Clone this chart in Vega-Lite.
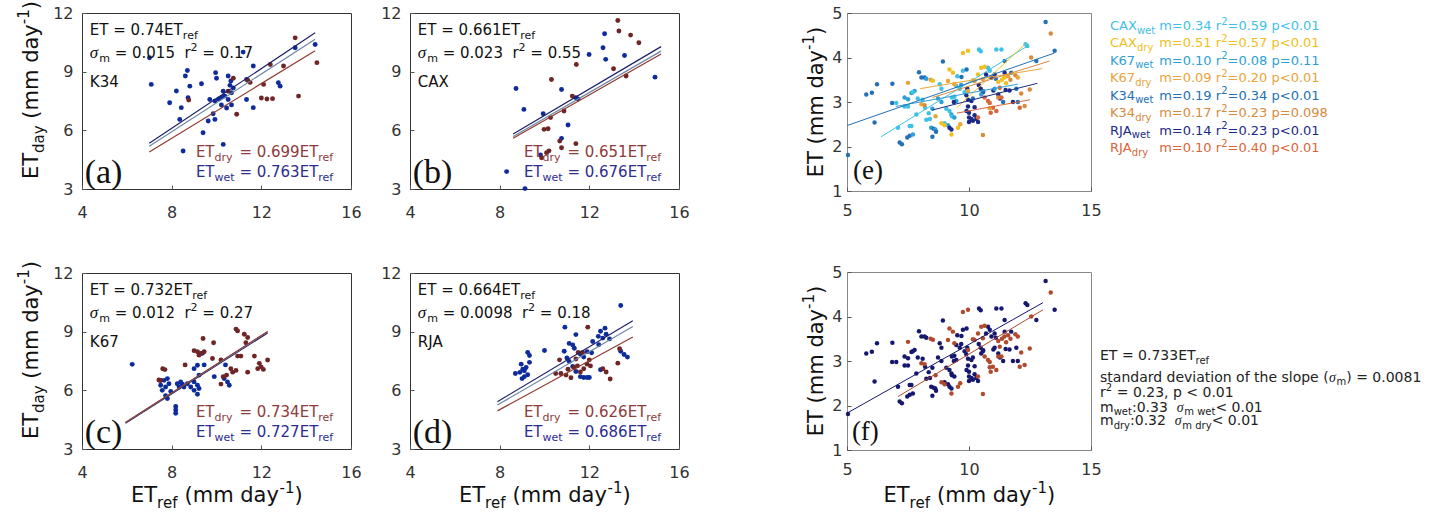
{
"$schema":"https://vega.github.io/schema/vega-lite/v6.json",
"background":"white",
"padding":{"left":16,"top":0,"right":5,"bottom":5},
"config":{"font":"DejaVu Sans","view":{"stroke":"#333","strokeWidth":1},"axis":{"grid":false,"domain":false,"labelFont":"DejaVu Sans","labelFontSize":16,"labelColor":"#333","tickColor":"#555","tickSize":-4,"labelFlush":false,"labelOverlap":false},"header":{"labels":false,"title":null,"labelExpr":"''","labelFontSize":0,"labelPadding":0,"titlePadding":0},"headerFacet":{"labels":false,"title":null,"labelExpr":"''","labelFontSize":0,"labelPadding":0}},
"datasets":{
"abcd":[
{"k":"a","site":"K34","t1":"ET = 0.74ET","t2":"=\u00a00.015\u00a0\u00a0r","t3":"=\u00a00.17","nm":"K34","lab":"(a)","td":"=\u00a00.699ET","tw":"=\u00a00.763ET"},
{"k":"a","site":"CAX","t1":"ET = 0.661ET","t2":"=\u00a00.023\u00a0\u00a0r","t3":"=\u00a00.55","nm":"CAX","lab":"(b)","td":"=\u00a00.651ET","tw":"=\u00a00.676ET"},
{"k":"a","site":"K67","t1":"ET = 0.732ET","t2":"=\u00a00.012\u00a0\u00a0r","t3":"=\u00a00.27","nm":"K67","lab":"(c)","td":"=\u00a00.734ET","tw":"=\u00a00.727ET"},
{"k":"a","site":"RJA","t1":"ET = 0.664ET","t2":"=\u00a00.0098\u00a0\u00a0r","t3":"=\u00a00.18","nm":"RJA","lab":"(d)","td":"=\u00a00.626ET","tw":"=\u00a00.686ET"},
{"k":"l","site":"K34","s":"wet","x":7.0,"y":5.34},{"k":"l","site":"K34","s":"wet","x":14.4,"y":10.99},
{"k":"l","site":"K34","s":"all","x":7.0,"y":5.18},{"k":"l","site":"K34","s":"all","x":14.4,"y":10.66},
{"k":"l","site":"K34","s":"dry","x":7.0,"y":4.89},{"k":"l","site":"K34","s":"dry","x":14.4,"y":10.07},
{"k":"l","site":"CAX","s":"wet","x":8.6,"y":5.81},{"k":"l","site":"CAX","s":"wet","x":15.2,"y":10.28},
{"k":"l","site":"CAX","s":"all","x":8.6,"y":5.68},{"k":"l","site":"CAX","s":"all","x":15.2,"y":10.05},
{"k":"l","site":"CAX","s":"dry","x":8.6,"y":5.6},{"k":"l","site":"CAX","s":"dry","x":15.2,"y":9.9},
{"k":"l","site":"K67","s":"wet","x":5.94,"y":4.32},{"k":"l","site":"K67","s":"wet","x":12.28,"y":8.93},
{"k":"l","site":"K67","s":"all","x":5.94,"y":4.35},{"k":"l","site":"K67","s":"all","x":12.28,"y":8.99},
{"k":"l","site":"K67","s":"dry","x":5.94,"y":4.36},{"k":"l","site":"K67","s":"dry","x":12.28,"y":9.01},
{"k":"l","site":"RJA","s":"wet","x":7.9,"y":5.42},{"k":"l","site":"RJA","s":"wet","x":13.94,"y":9.56},
{"k":"l","site":"RJA","s":"all","x":7.9,"y":5.25},{"k":"l","site":"RJA","s":"all","x":13.94,"y":9.26},
{"k":"l","site":"RJA","s":"dry","x":7.9,"y":4.95},{"k":"l","site":"RJA","s":"dry","x":13.94,"y":8.73},
{"k":"p","site":"K34","s":"wet","x":7.01,"y":9.71},{"k":"p","site":"K34","s":"wet","x":7.09,"y":8.35},{"k":"p","site":"K34","s":"wet","x":8.21,"y":8.01},{"k":"p","site":"K34","s":"wet","x":8.61,"y":8.78},{"k":"p","site":"K34","s":"wet","x":8.7,"y":9.06},{"k":"p","site":"K34","s":"wet","x":8.81,"y":8.26},{"k":"p","site":"K34","s":"wet","x":8.73,"y":7.67},{"k":"p","site":"K34","s":"wet","x":7.91,"y":7.41},{"k":"p","site":"K34","s":"wet","x":8.43,"y":7.16},{"k":"p","site":"K34","s":"wet","x":8.36,"y":6.56},{"k":"p","site":"K34","s":"wet","x":9.33,"y":8.38},{"k":"p","site":"K34","s":"wet","x":9.96,"y":8.95},{"k":"p","site":"K34","s":"wet","x":10.0,"y":8.66},{"k":"p","site":"K34","s":"wet","x":10.52,"y":8.78},{"k":"p","site":"K34","s":"wet","x":10.64,"y":8.52},{"k":"p","site":"K34","s":"wet","x":9.7,"y":7.58},{"k":"p","site":"K34","s":"wet","x":9.93,"y":7.5},{"k":"p","site":"K34","s":"wet","x":10.3,"y":8.0},{"k":"p","site":"K34","s":"wet","x":10.37,"y":7.75},{"k":"p","site":"K34","s":"wet","x":10.52,"y":7.58},{"k":"p","site":"K34","s":"wet","x":10.67,"y":7.92},{"k":"p","site":"K34","s":"wet","x":10.75,"y":8.17},{"k":"p","site":"K34","s":"wet","x":10.6,"y":8.3},{"k":"p","site":"K34","s":"wet","x":10.22,"y":7.3},{"k":"p","site":"K34","s":"wet","x":10.45,"y":7.14},{"k":"p","site":"K34","s":"wet","x":10.67,"y":7.3},{"k":"p","site":"K34","s":"wet","x":9.93,"y":6.56},{"k":"p","site":"K34","s":"wet","x":9.63,"y":6.48},{"k":"p","site":"K34","s":"wet","x":9.85,"y":6.85},{"k":"p","site":"K34","s":"wet","x":9.4,"y":5.88},{"k":"p","site":"K34","s":"wet","x":8.51,"y":4.94},{"k":"p","site":"K34","s":"wet","x":10.3,"y":5.28},{"k":"p","site":"K34","s":"wet","x":11.19,"y":10.0},{"k":"p","site":"K34","s":"wet","x":11.64,"y":9.29},{"k":"p","site":"K34","s":"wet","x":11.34,"y":8.6},{"k":"p","site":"K34","s":"wet","x":11.34,"y":7.58},{"k":"p","site":"K34","s":"wet","x":11.64,"y":7.16},{"k":"p","site":"K34","s":"wet","x":12.76,"y":8.43},{"k":"p","site":"K34","s":"wet","x":12.84,"y":8.26},{"k":"p","site":"K34","s":"wet","x":13.51,"y":10.22},{"k":"p","site":"K34","s":"wet","x":14.4,"y":10.39},{"k":"p","site":"K34","s":"wet","x":10.1,"y":7.6},{"k":"p","site":"K34","s":"wet","x":10.25,"y":7.7},
{"k":"p","site":"K34","s":"dry","x":10.75,"y":8.66},{"k":"p","site":"K34","s":"dry","x":11.4,"y":8.55},{"k":"p","site":"K34","s":"dry","x":11.5,"y":8.45},{"k":"p","site":"K34","s":"dry","x":12.1,"y":8.35},{"k":"p","site":"K34","s":"dry","x":12.0,"y":7.65},{"k":"p","site":"K34","s":"dry","x":12.25,"y":7.6},{"k":"p","site":"K34","s":"dry","x":12.5,"y":7.62},{"k":"p","site":"K34","s":"dry","x":13.66,"y":7.75},{"k":"p","site":"K34","s":"dry","x":12.99,"y":9.29},{"k":"p","site":"K34","s":"dry","x":12.4,"y":9.37},{"k":"p","site":"K34","s":"dry","x":13.51,"y":10.73},{"k":"p","site":"K34","s":"dry","x":14.48,"y":9.46},{"k":"p","site":"K34","s":"dry","x":10.9,"y":6.82},{"k":"p","site":"K34","s":"dry","x":8.76,"y":7.55},{"k":"p","site":"K34","s":"dry","x":10.52,"y":8.0},
{"k":"p","site":"CAX","s":"wet","x":8.31,"y":3.89},{"k":"p","site":"CAX","s":"wet","x":9.13,"y":3.02},{"k":"p","site":"CAX","s":"wet","x":8.73,"y":8.14},{"k":"p","site":"CAX","s":"wet","x":9.08,"y":7.07},{"k":"p","site":"CAX","s":"wet","x":9.94,"y":6.85},{"k":"p","site":"CAX","s":"wet","x":9.82,"y":4.74},{"k":"p","site":"CAX","s":"wet","x":10.76,"y":8.09},{"k":"p","site":"CAX","s":"wet","x":10.76,"y":5.59},{"k":"p","site":"CAX","s":"wet","x":11.05,"y":6.27},{"k":"p","site":"CAX","s":"wet","x":11.99,"y":9.88},{"k":"p","site":"CAX","s":"wet","x":12.68,"y":10.94},{"k":"p","site":"CAX","s":"wet","x":12.61,"y":10.22},{"k":"p","site":"CAX","s":"wet","x":12.73,"y":9.63},{"k":"p","site":"CAX","s":"wet","x":13.57,"y":9.83},{"k":"p","site":"CAX","s":"wet","x":11.4,"y":7.67},{"k":"p","site":"CAX","s":"wet","x":14.93,"y":8.72},{"k":"p","site":"CAX","s":"wet","x":11.5,"y":7.6},
{"k":"p","site":"CAX","s":"dry","x":13.27,"y":11.62},{"k":"p","site":"CAX","s":"dry","x":13.32,"y":11.08},{"k":"p","site":"CAX","s":"dry","x":13.84,"y":10.87},{"k":"p","site":"CAX","s":"dry","x":14.21,"y":10.48},{"k":"p","site":"CAX","s":"dry","x":11.42,"y":9.37},{"k":"p","site":"CAX","s":"dry","x":13.08,"y":9.15},{"k":"p","site":"CAX","s":"dry","x":13.64,"y":8.78},{"k":"p","site":"CAX","s":"dry","x":10.31,"y":8.6},{"k":"p","site":"CAX","s":"dry","x":11.24,"y":7.75},{"k":"p","site":"CAX","s":"dry","x":10.87,"y":6.99},{"k":"p","site":"CAX","s":"dry","x":10.27,"y":6.65},{"k":"p","site":"CAX","s":"dry","x":9.98,"y":6.05},{"k":"p","site":"CAX","s":"dry","x":10.16,"y":6.08},{"k":"p","site":"CAX","s":"dry","x":10.68,"y":5.45},{"k":"p","site":"CAX","s":"dry","x":10.76,"y":5.11},{"k":"p","site":"CAX","s":"dry","x":10.09,"y":4.86},{"k":"p","site":"CAX","s":"dry","x":9.87,"y":4.6},{"k":"p","site":"CAX","s":"dry","x":11.4,"y":5.32},{"k":"p","site":"CAX","s":"dry","x":10.2,"y":4.95},
{"k":"p","site":"K67","s":"wet","x":6.24,"y":7.33},{"k":"p","site":"K67","s":"wet","x":7.51,"y":6.51},{"k":"p","site":"K67","s":"wet","x":7.66,"y":6.51},{"k":"p","site":"K67","s":"wet","x":7.81,"y":6.6},{"k":"p","site":"K67","s":"wet","x":7.88,"y":6.34},{"k":"p","site":"K67","s":"wet","x":7.51,"y":6.26},{"k":"p","site":"K67","s":"wet","x":7.73,"y":6.17},{"k":"p","site":"K67","s":"wet","x":7.58,"y":6.0},{"k":"p","site":"K67","s":"wet","x":7.73,"y":5.72},{"k":"p","site":"K67","s":"wet","x":7.81,"y":5.58},{"k":"p","site":"K67","s":"wet","x":7.96,"y":5.94},{"k":"p","site":"K67","s":"wet","x":8.18,"y":5.0},{"k":"p","site":"K67","s":"wet","x":8.18,"y":5.17},{"k":"p","site":"K67","s":"wet","x":8.18,"y":4.83},{"k":"p","site":"K67","s":"wet","x":8.25,"y":6.34},{"k":"p","site":"K67","s":"wet","x":8.4,"y":6.43},{"k":"p","site":"K67","s":"wet","x":8.55,"y":6.17},{"k":"p","site":"K67","s":"wet","x":8.33,"y":6.17},{"k":"p","site":"K67","s":"wet","x":8.48,"y":6.31},{"k":"p","site":"K67","s":"wet","x":8.7,"y":6.34},{"k":"p","site":"K67","s":"wet","x":8.85,"y":6.17},{"k":"p","site":"K67","s":"wet","x":9.0,"y":6.43},{"k":"p","site":"K67","s":"wet","x":9.15,"y":6.26},{"k":"p","site":"K67","s":"wet","x":9.22,"y":6.09},{"k":"p","site":"K67","s":"wet","x":9.0,"y":6.0},{"k":"p","site":"K67","s":"wet","x":9.15,"y":5.8},{"k":"p","site":"K67","s":"wet","x":9.0,"y":7.11},{"k":"p","site":"K67","s":"wet","x":9.15,"y":7.28},{"k":"p","site":"K67","s":"wet","x":9.37,"y":7.9},{"k":"p","site":"K67","s":"wet","x":9.22,"y":6.78},{"k":"p","site":"K67","s":"wet","x":9.45,"y":7.3},{"k":"p","site":"K67","s":"wet","x":9.9,"y":6.7},{"k":"p","site":"K67","s":"wet","x":10.4,"y":7.3},{"k":"p","site":"K67","s":"wet","x":10.34,"y":6.6},{"k":"p","site":"K67","s":"wet","x":10.49,"y":6.43},{"k":"p","site":"K67","s":"wet","x":10.57,"y":6.26},
{"k":"p","site":"K67","s":"dry","x":7.6,"y":7.1},{"k":"p","site":"K67","s":"dry","x":7.7,"y":7.06},{"k":"p","site":"K67","s":"dry","x":7.5,"y":6.5},{"k":"p","site":"K67","s":"dry","x":7.43,"y":6.53},{"k":"p","site":"K67","s":"dry","x":8.6,"y":7.3},{"k":"p","site":"K67","s":"dry","x":9.0,"y":8.03},{"k":"p","site":"K67","s":"dry","x":9.15,"y":7.97},{"k":"p","site":"K67","s":"dry","x":9.3,"y":7.88},{"k":"p","site":"K67","s":"dry","x":9.45,"y":7.97},{"k":"p","site":"K67","s":"dry","x":9.22,"y":7.8},{"k":"p","site":"K67","s":"dry","x":9.4,"y":8.65},{"k":"p","site":"K67","s":"dry","x":9.87,"y":8.43},{"k":"p","site":"K67","s":"dry","x":9.82,"y":7.63},{"k":"p","site":"K67","s":"dry","x":10.2,"y":7.55},{"k":"p","site":"K67","s":"dry","x":10.3,"y":6.7},{"k":"p","site":"K67","s":"dry","x":10.45,"y":6.78},{"k":"p","site":"K67","s":"dry","x":10.2,"y":6.32},{"k":"p","site":"K67","s":"dry","x":10.64,"y":7.1},{"k":"p","site":"K67","s":"dry","x":10.72,"y":6.93},{"k":"p","site":"K67","s":"dry","x":10.87,"y":7.02},{"k":"p","site":"K67","s":"dry","x":10.87,"y":9.13},{"k":"p","site":"K67","s":"dry","x":10.94,"y":9.04},{"k":"p","site":"K67","s":"dry","x":11.24,"y":8.87},{"k":"p","site":"K67","s":"dry","x":11.39,"y":8.7},{"k":"p","site":"K67","s":"dry","x":11.31,"y":8.43},{"k":"p","site":"K67","s":"dry","x":10.94,"y":7.75},{"k":"p","site":"K67","s":"dry","x":11.09,"y":7.75},{"k":"p","site":"K67","s":"dry","x":11.39,"y":6.93},{"k":"p","site":"K67","s":"dry","x":11.69,"y":7.75},{"k":"p","site":"K67","s":"dry","x":11.91,"y":7.38},{"k":"p","site":"K67","s":"dry","x":11.99,"y":7.2},{"k":"p","site":"K67","s":"dry","x":11.84,"y":7.11},{"k":"p","site":"K67","s":"dry","x":12.28,"y":7.55},{"k":"p","site":"K67","s":"dry","x":12.09,"y":7.07},
{"k":"p","site":"RJA","s":"wet","x":8.7,"y":6.86},{"k":"p","site":"RJA","s":"wet","x":8.9,"y":6.92},{"k":"p","site":"RJA","s":"wet","x":9.03,"y":7.08},{"k":"p","site":"RJA","s":"wet","x":9.18,"y":7.17},{"k":"p","site":"RJA","s":"wet","x":8.96,"y":7.34},{"k":"p","site":"RJA","s":"wet","x":9.33,"y":7.43},{"k":"p","site":"RJA","s":"wet","x":9.33,"y":7.78},{"k":"p","site":"RJA","s":"wet","x":9.1,"y":7.0},{"k":"p","site":"RJA","s":"wet","x":9.0,"y":6.6},{"k":"p","site":"RJA","s":"wet","x":9.25,"y":6.8},{"k":"p","site":"RJA","s":"wet","x":9.1,"y":6.7},{"k":"p","site":"RJA","s":"wet","x":9.25,"y":7.94},{"k":"p","site":"RJA","s":"wet","x":10.0,"y":8.04},{"k":"p","site":"RJA","s":"wet","x":10.91,"y":9.23},{"k":"p","site":"RJA","s":"wet","x":10.88,"y":8.0},{"k":"p","site":"RJA","s":"wet","x":11.1,"y":8.4},{"k":"p","site":"RJA","s":"wet","x":11.26,"y":8.32},{"k":"p","site":"RJA","s":"wet","x":11.33,"y":8.15},{"k":"p","site":"RJA","s":"wet","x":11.4,"y":8.85},{"k":"p","site":"RJA","s":"wet","x":11.0,"y":7.65},{"k":"p","site":"RJA","s":"wet","x":11.1,"y":7.48},{"k":"p","site":"RJA","s":"wet","x":11.26,"y":7.22},{"k":"p","site":"RJA","s":"wet","x":11.4,"y":6.96},{"k":"p","site":"RJA","s":"wet","x":11.6,"y":7.85},{"k":"p","site":"RJA","s":"wet","x":11.75,"y":7.7},{"k":"p","site":"RJA","s":"wet","x":11.9,"y":7.97},{"k":"p","site":"RJA","s":"wet","x":11.6,"y":6.7},{"k":"p","site":"RJA","s":"wet","x":11.75,"y":6.66},{"k":"p","site":"RJA","s":"wet","x":11.9,"y":6.66},{"k":"p","site":"RJA","s":"wet","x":12.0,"y":6.66},{"k":"p","site":"RJA","s":"wet","x":12.15,"y":8.5},{"k":"p","site":"RJA","s":"wet","x":12.4,"y":8.76},{"k":"p","site":"RJA","s":"wet","x":12.5,"y":9.02},{"k":"p","site":"RJA","s":"wet","x":12.7,"y":9.18},{"k":"p","site":"RJA","s":"wet","x":12.75,"y":8.87},{"k":"p","site":"RJA","s":"wet","x":12.9,"y":8.63},{"k":"p","site":"RJA","s":"wet","x":12.6,"y":8.67},{"k":"p","site":"RJA","s":"wet","x":12.42,"y":8.33},{"k":"p","site":"RJA","s":"wet","x":12.1,"y":7.92},{"k":"p","site":"RJA","s":"wet","x":12.5,"y":7.05},{"k":"p","site":"RJA","s":"wet","x":13.4,"y":10.34},{"k":"p","site":"RJA","s":"wet","x":13.4,"y":8.0},{"k":"p","site":"RJA","s":"wet","x":13.55,"y":7.83},{"k":"p","site":"RJA","s":"wet","x":13.7,"y":7.7},
{"k":"p","site":"RJA","s":"dry","x":10.67,"y":7.56},{"k":"p","site":"RJA","s":"dry","x":10.5,"y":6.86},{"k":"p","site":"RJA","s":"dry","x":10.73,"y":6.86},{"k":"p","site":"RJA","s":"dry","x":10.96,"y":6.78},{"k":"p","site":"RJA","s":"dry","x":11.18,"y":6.64},{"k":"p","site":"RJA","s":"dry","x":11.05,"y":7.08},{"k":"p","site":"RJA","s":"dry","x":11.4,"y":7.6},{"k":"p","site":"RJA","s":"dry","x":11.47,"y":7.25},{"k":"p","site":"RJA","s":"dry","x":11.33,"y":7.17},{"k":"p","site":"RJA","s":"dry","x":11.6,"y":6.94},{"k":"p","site":"RJA","s":"dry","x":11.75,"y":7.1},{"k":"p","site":"RJA","s":"dry","x":11.9,"y":7.34},{"k":"p","site":"RJA","s":"dry","x":12.05,"y":7.25},{"k":"p","site":"RJA","s":"dry","x":11.93,"y":9.23},{"k":"p","site":"RJA","s":"dry","x":12.0,"y":7.56},{"k":"p","site":"RJA","s":"dry","x":11.5,"y":7.94},{"k":"p","site":"RJA","s":"dry","x":11.7,"y":7.94},{"k":"p","site":"RJA","s":"dry","x":12.6,"y":7.1},{"k":"p","site":"RJA","s":"dry","x":12.75,"y":6.94},{"k":"p","site":"RJA","s":"dry","x":12.93,"y":6.58},{"k":"p","site":"RJA","s":"dry","x":13.27,"y":7.39},{"k":"p","site":"RJA","s":"dry","x":13.35,"y":8.13}
],
"etpts":[
{"g":"K34_wet","s":"wet","x":5.04,"y":1.81},{"g":"K34_wet","s":"wet","x":5.79,"y":3.17},{"g":"K34_wet","s":"wet","x":6.02,"y":3.21},{"g":"K34_wet","s":"wet","x":6.23,"y":3.4},{"g":"K34_wet","s":"wet","x":6.13,"y":2.54},{"g":"K34_wet","s":"wet","x":6.86,"y":3.41},{"g":"K34_wet","s":"wet","x":6.85,"y":2.98},{"g":"CAX_wet","s":"wet","x":7.02,"y":2.98},{"g":"CAX_wet","s":"wet","x":7.09,"y":2.42},{"g":"K34_wet","s":"wet","x":7.16,"y":2.09},{"g":"K34_wet","s":"wet","x":7.25,"y":2.05},{"g":"K67_wet","s":"wet","x":7.36,"y":3.1},{"g":"K67_wet","s":"wet","x":7.5,"y":3.06},{"g":"CAX_wet","s":"wet","x":7.36,"y":2.9},{"g":"CAX_wet","s":"wet","x":7.5,"y":2.9},{"g":"CAX_wet","s":"wet","x":7.57,"y":2.46},{"g":"CAX_wet","s":"wet","x":7.64,"y":2.46},{"g":"K34_wet","s":"wet","x":7.47,"y":2.2},{"g":"K34_wet","s":"wet","x":7.57,"y":2.24},{"g":"K67_wet","s":"wet","x":7.7,"y":2.27},{"g":"K67_wet","s":"wet","x":7.64,"y":3.2},{"g":"K67_wet","s":"wet","x":7.77,"y":3.25},{"g":"CAX_wet","s":"wet","x":7.7,"y":3.22},{"g":"CAX_wet","s":"wet","x":7.84,"y":2.72},{"g":"K34_wet","s":"wet","x":7.95,"y":3.67},{"g":"K34_wet","s":"wet","x":8.05,"y":3.55},{"g":"K34_wet","s":"wet","x":8.18,"y":3.55},{"g":"K67_wet","s":"wet","x":8.25,"y":3.52},{"g":"CAX_wet","s":"wet","x":7.9,"y":3.08},{"g":"CAX_wet","s":"wet","x":8.1,"y":3.05},{"g":"CAX_wet","s":"wet","x":8.2,"y":2.87},{"g":"CAX_wet","s":"wet","x":8.35,"y":2.75},{"g":"K67_wet","s":"wet","x":8.5,"y":2.85},{"g":"CAX_wet","s":"wet","x":8.25,"y":2.6},{"g":"CAX_wet","s":"wet","x":8.4,"y":2.62},{"g":"K67_wet","s":"wet","x":8.45,"y":2.42},{"g":"K34_wet","s":"wet","x":8.55,"y":2.4},{"g":"K67_wet","s":"wet","x":8.62,"y":2.38},{"g":"K34_wet","s":"wet","x":8.5,"y":2.22},{"g":"K34_wet","s":"wet","x":8.65,"y":2.33},{"g":"CAX_wet","s":"wet","x":8.8,"y":3.4},{"g":"CAX_wet","s":"wet","x":8.87,"y":3.3},{"g":"K34_wet","s":"wet","x":8.93,"y":3.91},{"g":"K67_wet","s":"wet","x":8.73,"y":3.08},{"g":"K67_wet","s":"wet","x":8.87,"y":3.0},{"g":"CAX_wet","s":"wet","x":9.07,"y":2.85},{"g":"CAX_wet","s":"wet","x":9.2,"y":2.8},{"g":"K67_wet","s":"wet","x":9.28,"y":2.72},{"g":"CAX_wet","s":"wet","x":9.0,"y":2.52},{"g":"K67_wet","s":"wet","x":9.14,"y":2.48},{"g":"RJA_wet","s":"wet","x":9.2,"y":2.42},{"g":"RJA_wet","s":"wet","x":9.28,"y":2.38},{"g":"CAX_wet","s":"wet","x":9.3,"y":2.68},{"g":"K67_wet","s":"wet","x":9.4,"y":2.65},{"g":"CAX_wet","s":"wet","x":9.3,"y":3.1},{"g":"CAX_wet","s":"wet","x":9.4,"y":3.12},{"g":"K67_wet","s":"wet","x":9.48,"y":3.02},{"g":"RJA_wet","s":"wet","x":9.38,"y":3.0},{"g":"CAX_wet","s":"wet","x":9.48,"y":3.36},{"g":"CAX_wet","s":"wet","x":9.62,"y":3.3},{"g":"K67_wet","s":"wet","x":9.68,"y":3.38},{"g":"CAX_wet","s":"wet","x":9.52,"y":3.58},{"g":"K34_wet","s":"wet","x":9.69,"y":3.56},{"g":"CAX_wet","s":"wet","x":9.75,"y":3.7},{"g":"K34_wet","s":"wet","x":9.9,"y":3.73},{"g":"RJA_wet","s":"wet","x":9.93,"y":3.3},{"g":"CAX_wet","s":"wet","x":9.82,"y":3.22},{"g":"RJA_wet","s":"wet","x":9.89,"y":3.15},{"g":"RJA_wet","s":"wet","x":9.96,"y":3.05},{"g":"RJA_wet","s":"wet","x":10.1,"y":3.02},{"g":"K34_wet","s":"wet","x":10.16,"y":3.08},{"g":"RJA_wet","s":"wet","x":9.96,"y":2.9},{"g":"RJA_wet","s":"wet","x":10.23,"y":2.88},{"g":"RJA_wet","s":"wet","x":9.9,"y":2.8},{"g":"RJA_wet","s":"wet","x":10.0,"y":2.76},{"g":"RJA_wet","s":"wet","x":10.0,"y":2.65},{"g":"RJA_wet","s":"wet","x":10.1,"y":2.62},{"g":"RJA_wet","s":"wet","x":10.23,"y":2.7},{"g":"RJA_wet","s":"wet","x":10.3,"y":2.62},{"g":"RJA_wet","s":"wet","x":10.16,"y":2.58},{"g":"RJA_wet","s":"wet","x":10.37,"y":2.55},{"g":"RJA_wet","s":"wet","x":10.0,"y":2.55},{"g":"RJA_wet","s":"wet","x":10.4,"y":3.38},{"g":"RJA_wet","s":"wet","x":10.48,"y":3.3},{"g":"RJA_wet","s":"wet","x":10.57,"y":3.22},{"g":"K67_wet","s":"wet","x":10.5,"y":3.17},{"g":"K34_wet","s":"wet","x":10.58,"y":3.24},{"g":"CAX_wet","s":"wet","x":10.41,"y":4.18},{"g":"CAX_wet","s":"wet","x":10.48,"y":4.14},{"g":"RJA_wet","s":"wet","x":10.7,"y":3.62},{"g":"CAX_wet","s":"wet","x":10.78,"y":3.77},{"g":"CAX_wet","s":"wet","x":10.85,"y":3.7},{"g":"RJA_wet","s":"wet","x":10.92,"y":3.55},{"g":"RJA_wet","s":"wet","x":11.05,"y":3.62},{"g":"K34_wet","s":"wet","x":11.1,"y":3.52},{"g":"RJA_wet","s":"wet","x":11.0,"y":3.26},{"g":"K67_wet","s":"wet","x":11.05,"y":3.3},{"g":"CAX_wet","s":"wet","x":11.12,"y":4.18},{"g":"CAX_wet","s":"wet","x":11.33,"y":4.18},{"g":"RJA_wet","s":"wet","x":11.2,"y":3.17},{"g":"RJA_wet","s":"wet","x":11.27,"y":3.08},{"g":"K34_wet","s":"wet","x":11.4,"y":3.0},{"g":"K34_wet","s":"wet","x":11.46,"y":3.92},{"g":"RJA_wet","s":"wet","x":11.46,"y":3.66},{"g":"RJA_wet","s":"wet","x":11.5,"y":3.27},{"g":"RJA_wet","s":"wet","x":11.66,"y":3.26},{"g":"K34_wet","s":"wet","x":11.73,"y":3.66},{"g":"K34_wet","s":"wet","x":11.94,"y":3.3},{"g":"K34_wet","s":"wet","x":12.0,"y":3.0},{"g":"RJA_wet","s":"wet","x":11.8,"y":3.0},{"g":"CAX_wet","s":"wet","x":12.32,"y":4.3},{"g":"CAX_wet","s":"wet","x":12.39,"y":4.26},{"g":"K34_wet","s":"wet","x":12.76,"y":3.92},{"g":"K34_wet","s":"wet","x":13.14,"y":4.8},{"g":"K34_wet","s":"wet","x":13.51,"y":4.15},
{"g":"K67_dry","s":"dry","x":7.5,"y":3.43},{"g":"K67_dry","s":"dry","x":8.05,"y":2.95},{"g":"K34_dry","s":"dry","x":8.18,"y":2.93},{"g":"K67_dry","s":"dry","x":8.43,"y":3.5},{"g":"CAX_dry","s":"dry","x":8.52,"y":3.48},{"g":"K67_dry","s":"dry","x":8.63,"y":2.68},{"g":"CAX_dry","s":"dry","x":8.87,"y":2.52},{"g":"CAX_dry","s":"dry","x":9.0,"y":2.48},{"g":"CAX_dry","s":"dry","x":9.2,"y":3.73},{"g":"CAX_dry","s":"dry","x":9.34,"y":3.66},{"g":"K67_dry","s":"dry","x":9.14,"y":3.47},{"g":"K67_dry","s":"dry","x":9.4,"y":3.4},{"g":"CAX_dry","s":"dry","x":9.75,"y":4.1},{"g":"CAX_dry","s":"dry","x":9.96,"y":4.15},{"g":"CAX_dry","s":"dry","x":9.28,"y":2.27},{"g":"CAX_dry","s":"dry","x":9.55,"y":2.42},{"g":"K67_dry","s":"dry","x":9.64,"y":2.5},{"g":"K67_dry","s":"dry","x":9.96,"y":3.25},{"g":"CAX_dry","s":"dry","x":10.16,"y":3.49},{"g":"K67_dry","s":"dry","x":10.23,"y":3.47},{"g":"CAX_dry","s":"dry","x":10.5,"y":3.77},{"g":"CAX_dry","s":"dry","x":10.64,"y":3.79},{"g":"CAX_dry","s":"dry","x":10.37,"y":3.62},{"g":"K67_dry","s":"dry","x":10.57,"y":3.51},{"g":"RJA_dry","s":"dry","x":10.64,"y":3.1},{"g":"RJA_dry","s":"dry","x":10.78,"y":3.02},{"g":"RJA_dry","s":"dry","x":10.85,"y":2.98},{"g":"RJA_dry","s":"dry","x":10.98,"y":2.87},{"g":"K67_dry","s":"dry","x":10.85,"y":2.86},{"g":"RJA_dry","s":"dry","x":10.89,"y":2.76},{"g":"K34_dry","s":"dry","x":11.2,"y":3.1},{"g":"RJA_dry","s":"dry","x":11.33,"y":3.1},{"g":"CAX_dry","s":"dry","x":11.2,"y":3.45},{"g":"CAX_dry","s":"dry","x":11.35,"y":3.5},{"g":"CAX_dry","s":"dry","x":11.45,"y":3.55},{"g":"K67_dry","s":"dry","x":11.6,"y":3.58},{"g":"CAX_dry","s":"dry","x":11.52,"y":3.42},{"g":"RJA_dry","s":"dry","x":11.26,"y":3.32},{"g":"K34_dry","s":"dry","x":11.7,"y":3.5},{"g":"K34_dry","s":"dry","x":11.9,"y":3.6},{"g":"K67_dry","s":"dry","x":12.0,"y":3.55},{"g":"K34_dry","s":"dry","x":10.57,"y":2.26},{"g":"RJA_dry","s":"dry","x":10.37,"y":2.65},{"g":"RJA_dry","s":"dry","x":11.12,"y":2.8},{"g":"K34_dry","s":"dry","x":12.14,"y":3.19},{"g":"RJA_dry","s":"dry","x":12.08,"y":2.87},{"g":"K34_dry","s":"dry","x":12.49,"y":3.28},{"g":"K34_dry","s":"dry","x":12.28,"y":2.91},{"g":"K34_dry","s":"dry","x":12.55,"y":4.0},{"g":"K34_dry","s":"dry","x":13.35,"y":4.54}
],
"elines":[
{"g":"CAX_wet","x":6.4,"y":2.22},{"g":"CAX_wet","x":12.4,"y":4.26},
{"g":"CAX_dry","x":9.5,"y":2.87},{"g":"CAX_dry","x":12.3,"y":4.3},
{"g":"K67_wet","x":7.0,"y":2.9},{"g":"K67_wet","x":12.0,"y":3.4},
{"g":"K67_dry","x":8.0,"y":3.3},{"g":"K67_dry","x":13.0,"y":3.75},
{"g":"K34_wet","x":5.0,"y":2.47},{"g":"K34_wet","x":13.5,"y":4.1},
{"g":"K34_dry","x":8.5,"y":3.1},{"g":"K34_dry","x":13.3,"y":3.92},
{"g":"RJA_wet","x":8.5,"y":2.82},{"g":"RJA_wet","x":12.8,"y":3.42},
{"g":"RJA_dry","x":9.5,"y":2.75},{"g":"RJA_dry","x":12.5,"y":3.05}
],
"flines":[
{"s":"wet","x":5.04,"y":1.84},{"s":"wet","x":13.03,"y":4.31},
{"s":"dry","x":7.09,"y":2.2},{"s":"dry","x":13.03,"y":4.15}
],
"elegend":[
{"g":"CAX_wet","nm":"CAX","sb":"wet","st":"m=0.34 r","fn":"=0.59 p<0.01"},
{"g":"CAX_dry","nm":"CAX","sb":"dry","st":"m=0.51 r","fn":"=0.57 p<0.01"},
{"g":"K67_wet","nm":"K67","sb":"wet","st":"m=0.10 r","fn":"=0.08 p=0.11"},
{"g":"K67_dry","nm":"K67","sb":"dry","st":"m=0.09 r","fn":"=0.20 p<0.01"},
{"g":"K34_wet","nm":"K34","sb":"wet","st":"m=0.19 r","fn":"=0.34 p<0.01"},
{"g":"K34_dry","nm":"K34","sb":"dry","st":"m=0.17 r","fn":"=0.23 p=0.098"},
{"g":"RJA_wet","nm":"RJA","sb":"wet","st":"m=0.14 r","fn":"=0.23 p<0.01"},
{"g":"RJA_dry","nm":"RJA","sb":"dry","st":"m=0.10 r","fn":"=0.40 p<0.01"}
]
},
"bounds":"full",
"spacing":111,
"resolve":{"scale":{"color":"independent"}},
"hconcat":[
{
"data":{"name":"abcd"},
"facet":{"field":"site","type":"nominal","sort":["K34","CAX","K67","RJA"],"title":null,"header":{"labels":false,"title":null,"labelExpr":"''","labelFontSize":0,"labelPadding":0}},
"columns":2,
"spacing":{"row":84,"column":59},
"bounds":"flush",
"resolve":{"axis":{"x":"independent","y":"independent"}},
"spec":{
"width":269,"height":176,
"resolve":{"scale":{"color":"independent"}},
"layer":[
{"transform":[{"filter":"datum.k=='p'"}],"mark":{"type":"circle","size":24,"opacity":1},
 "encoding":{"x":{"field":"x","type":"quantitative","scale":{"domain":[4,16]},"axis":{"values":[4,8,12,16],"title":null,"labelPadding":19}},
 "y":{"field":"y","type":"quantitative","scale":{"domain":[3,12]},"axis":{"values":[3,6,9,12],"title":null,"labelPadding":13}},
 "color":{"field":"s","type":"nominal","scale":{"domain":["wet","dry"],"range":["#0e2b9c","#6f2525"]},"legend":null}}},
{"transform":[{"filter":"datum.k=='l'"}],"mark":{"type":"line","strokeWidth":1.2},
 "encoding":{"x":{"field":"x","type":"quantitative"},"y":{"field":"y","type":"quantitative"},
 "color":{"field":"s","type":"nominal","scale":{"domain":["wet","all","dry"],"range":["#1c1f66","#6d86a6","#8f3a2e"]},"legend":null}}},
{"transform":[{"filter":"datum.k=='a'"}],
 "layer":[
 {"mark":{"type":"text","align":"left","baseline":"alphabetic","fontSize":15,"color":"#111"},"encoding":{"x":{"datum":4.35},"y":{"datum":10.85},"text":{"field":"t1"}}},
 {"transform":[{"filter":"datum.site=='K34'"}],"mark":{"type":"text","text":"ref","align":"left","baseline":"alphabetic","fontSize":11,"dx":93,"dy":4,"color":"#111"},"encoding":{"x":{"datum":4.35},"y":{"datum":10.85}}},
 {"transform":[{"filter":"datum.site!='K34'"}],"mark":{"type":"text","text":"ref","align":"left","baseline":"alphabetic","fontSize":11,"dx":102.3,"dy":4,"color":"#111"},"encoding":{"x":{"datum":4.35},"y":{"datum":10.85}}},
 {"mark":{"type":"text","text":"σ","font":"Liberation Serif","fontStyle":"italic","align":"left","baseline":"alphabetic","fontSize":17,"color":"#111"},"encoding":{"x":{"datum":4.35},"y":{"datum":9.7}}},
 {"mark":{"type":"text","text":"m","align":"left","baseline":"alphabetic","fontSize":11,"dx":9.5,"dy":4,"color":"#111"},"encoding":{"x":{"datum":4.35},"y":{"datum":9.7}}},
 {"mark":{"type":"text","align":"left","baseline":"alphabetic","fontSize":15,"dx":24.8,"color":"#111"},"encoding":{"x":{"datum":4.35},"y":{"datum":9.7},"text":{"field":"t2"}}},
 {"transform":[{"filter":"datum.site!='RJA'"}],"mark":{"type":"text","text":"2","align":"left","baseline":"alphabetic","fontSize":11,"dx":100.7,"dy":-7,"color":"#111"},"encoding":{"x":{"datum":4.35},"y":{"datum":9.7}}},
 {"transform":[{"filter":"datum.site=='RJA'"}],"mark":{"type":"text","text":"2","align":"left","baseline":"alphabetic","fontSize":11,"dx":110.2,"dy":-7,"color":"#111"},"encoding":{"x":{"datum":4.35},"y":{"datum":9.7}}},
 {"transform":[{"filter":"datum.site!='RJA'"}],"mark":{"type":"text","align":"left","baseline":"alphabetic","fontSize":15,"dx":112.5,"color":"#111"},"encoding":{"x":{"datum":4.35},"y":{"datum":9.7},"text":{"field":"t3"}}},
 {"transform":[{"filter":"datum.site=='RJA'"}],"mark":{"type":"text","align":"left","baseline":"alphabetic","fontSize":15,"dx":122,"color":"#111"},"encoding":{"x":{"datum":4.35},"y":{"datum":9.7},"text":{"field":"t3"}}},
 {"mark":{"type":"text","align":"left","baseline":"alphabetic","fontSize":15,"color":"#111"},"encoding":{"x":{"datum":4.35},"y":{"datum":8.2},"text":{"field":"nm"}}},
 {"mark":{"type":"text","text":"ET","align":"left","baseline":"alphabetic","fontSize":15,"color":"#8e3b3b"},"encoding":{"x":{"datum":9.08},"y":{"datum":4.62}}},
 {"mark":{"type":"text","text":"dry","align":"left","baseline":"alphabetic","fontSize":11,"dx":18.6,"dy":4,"color":"#8e3b3b"},"encoding":{"x":{"datum":9.08},"y":{"datum":4.62}}},
 {"mark":{"type":"text","align":"left","baseline":"alphabetic","fontSize":15,"dx":43.5,"color":"#8e3b3b"},"encoding":{"x":{"datum":9.08},"y":{"datum":4.62},"text":{"field":"td"}}},
 {"mark":{"type":"text","text":"ref","align":"left","baseline":"alphabetic","fontSize":11,"dx":122.4,"dy":4,"color":"#8e3b3b"},"encoding":{"x":{"datum":9.08},"y":{"datum":4.62}}},
 {"mark":{"type":"text","text":"ET","align":"left","baseline":"alphabetic","fontSize":15,"color":"#2d2d8e"},"encoding":{"x":{"datum":9.08},"y":{"datum":3.6}}},
 {"mark":{"type":"text","text":"wet","align":"left","baseline":"alphabetic","fontSize":11,"dx":18.6,"dy":4,"color":"#2d2d8e"},"encoding":{"x":{"datum":9.08},"y":{"datum":3.6}}},
 {"mark":{"type":"text","align":"left","baseline":"alphabetic","fontSize":15,"dx":43.5,"color":"#2d2d8e"},"encoding":{"x":{"datum":9.08},"y":{"datum":3.6},"text":{"field":"tw"}}},
 {"mark":{"type":"text","text":"ref","align":"left","baseline":"alphabetic","fontSize":11,"dx":122.4,"dy":4,"color":"#2d2d8e"},"encoding":{"x":{"datum":9.08},"y":{"datum":3.6}}},
 {"mark":{"type":"text","font":"Liberation Serif","align":"left","baseline":"alphabetic","fontSize":34,"color":"#111"},"encoding":{"x":{"datum":4.12},"y":{"datum":3.33},"text":{"field":"lab"}}}
 ]},
{"transform":[{"filter":"datum.k=='a' && (datum.site=='K34' || datum.site=='K67')"}],
 "encoding":{"x":{"datum":2.05},"y":{"datum":8.06}},
 "layer":[
 {"mark":{"type":"text","text":"ET","angle":270,"align":"left","baseline":"alphabetic","fontSize":21,"dx":-89,"color":"#111"}},
 {"mark":{"type":"text","text":"day","angle":270,"align":"left","baseline":"alphabetic","fontSize":15,"dx":-62.9,"dy":6,"color":"#111"}},
 {"mark":{"type":"text","text":"(mm day","angle":270,"align":"left","baseline":"alphabetic","fontSize":21,"dx":-28.6,"color":"#111"}},
 {"mark":{"type":"text","text":"-1","angle":270,"align":"left","baseline":"alphabetic","fontSize":15,"dx":65.8,"dy":-9,"color":"#111"}},
 {"mark":{"type":"text","text":")","angle":270,"align":"left","baseline":"alphabetic","fontSize":21,"dx":80.8,"color":"#111"}}
 ]},
{"transform":[{"filter":"datum.k=='a' && (datum.site=='K67' || datum.site=='RJA')"}],
 "encoding":{"x":{"datum":10},"y":{"datum":0.3}},
 "layer":[
 {"mark":{"type":"text","text":"ET","align":"left","baseline":"alphabetic","fontSize":21,"dx":-85.5,"color":"#111"}},
 {"mark":{"type":"text","text":"ref","align":"left","baseline":"alphabetic","fontSize":15,"dx":-59.4,"dy":6,"color":"#111"}},
 {"mark":{"type":"text","text":"(mm day","align":"left","baseline":"alphabetic","fontSize":21,"dx":-32,"color":"#111"}},
 {"mark":{"type":"text","text":"-1","align":"left","baseline":"alphabetic","fontSize":15,"dx":63,"dy":-9,"color":"#111"}},
 {"mark":{"type":"text","text":")","align":"left","baseline":"alphabetic","fontSize":21,"dx":78,"color":"#111"}}
 ]}
]
}
},
{
"resolve":{"scale":{"color":"independent"}},
"vconcat":[
{
"width":244,"height":178,
"view":{"stroke":"#888"},
"resolve":{"scale":{"y":"independent"}},
"layer":[
 {"layer":[
  {"data":{"name":"etpts"},"mark":{"type":"circle","size":20,"opacity":1},
   "encoding":{"x":{"field":"x","type":"quantitative","scale":{"domain":[5,15]},"axis":{"values":[5,10,15],"title":null,"labelPadding":15}},
   "y":{"field":"y","type":"quantitative","scale":{"domain":[1,5]},"axis":{"values":[1,2,3,4,5],"title":null,"labelPadding":9}},
   "color":{"field":"g","type":"nominal","scale":{"domain":["CAX_wet","CAX_dry","K67_wet","K67_dry","K34_wet","K34_dry","RJA_wet","RJA_dry"],"range":["#3fc1e6","#f0c020","#2f9fd8","#e9a43a","#2470b8","#d98a3d","#1c2b86","#d9663a"]},"legend":null}}},
  {"data":{"name":"elines"},"mark":{"type":"line","strokeWidth":1},
   "encoding":{"x":{"field":"x","type":"quantitative"},"y":{"field":"y","type":"quantitative"},"color":{"field":"g","type":"nominal","legend":null}}},
  {"data":{"values":[{}]},
   "layer":[
   {"mark":{"type":"text","text":"(e)","font":"Liberation Serif","align":"left","baseline":"alphabetic","fontSize":27,"color":"#111"},"encoding":{"x":{"datum":5.25},"y":{"datum":1.27}}},
   {"encoding":{"x":{"datum":4.02},"y":{"datum":3}},
    "layer":[
    {"mark":{"type":"text","text":"ET","angle":270,"align":"left","baseline":"alphabetic","fontSize":21,"dx":-75.2,"color":"#111"}},
    {"mark":{"type":"text","text":"(mm day","angle":270,"align":"left","baseline":"alphabetic","fontSize":21,"dx":-42.4,"color":"#111"}},
    {"mark":{"type":"text","text":"-1","angle":270,"align":"left","baseline":"alphabetic","fontSize":15,"dx":52,"dy":-9,"color":"#111"}},
    {"mark":{"type":"text","text":")","angle":270,"align":"left","baseline":"alphabetic","fontSize":21,"dx":67,"color":"#111"}}
    ]}
   ]}
 ]},
 {"data":{"name":"elegend"},
  "encoding":{"x":{"datum":15.78},"y":{"field":"g","type":"nominal","scale":{"type":"point","padding":0,"domain":["CAX_wet","CAX_dry","K67_wet","K67_dry","K34_wet","K34_dry","RJA_wet","RJA_dry"],"range":[17,139]},"axis":null},"color":{"field":"g","type":"nominal","legend":null}},
  "layer":[
  {"mark":{"type":"text","align":"left","baseline":"alphabetic","fontSize":13},"encoding":{"text":{"field":"nm"}}},
  {"transform":[{"filter":"datum.nm=='CAX'"}],"mark":{"type":"text","align":"left","baseline":"alphabetic","fontSize":10,"dx":26.9,"dy":3.5},"encoding":{"text":{"field":"sb"}}},
  {"transform":[{"filter":"datum.nm=='RJA'"}],"mark":{"type":"text","align":"left","baseline":"alphabetic","fontSize":10,"dx":21.8,"dy":3.5},"encoding":{"text":{"field":"sb"}}},
  {"transform":[{"filter":"datum.nm=='K67' || datum.nm=='K34'"}],"mark":{"type":"text","align":"left","baseline":"alphabetic","fontSize":10,"dx":25.1,"dy":3.5},"encoding":{"text":{"field":"sb"}}},
  {"mark":{"type":"text","align":"left","baseline":"alphabetic","fontSize":13,"dx":49.1},"encoding":{"text":{"field":"st"}}},
  {"mark":{"type":"text","text":"2","align":"left","baseline":"alphabetic","fontSize":10,"dx":111.1,"dy":-5.5}},
  {"mark":{"type":"text","align":"left","baseline":"alphabetic","fontSize":13,"dx":117.5},"encoding":{"text":{"field":"fn"}}}
  ]}
]
},
{
"width":244,"height":178,
"view":{"stroke":"#888"},
"layer":[
 {"data":{"name":"etpts"},"mark":{"type":"circle","size":20,"opacity":1},
  "encoding":{"x":{"field":"x","type":"quantitative","scale":{"domain":[5,15]},"axis":{"values":[5,10,15],"title":null,"labelPadding":15}},
  "y":{"field":"y","type":"quantitative","scale":{"domain":[1,5]},"axis":{"values":[1,2,3,4,5],"title":null,"labelPadding":9}},
  "color":{"field":"s","type":"nominal","scale":{"domain":["wet","dry"],"range":["#16186e","#b04a2e"]},"legend":null}}},
 {"data":{"name":"flines"},"mark":{"type":"line","strokeWidth":1},
  "encoding":{"x":{"field":"x","type":"quantitative"},"y":{"field":"y","type":"quantitative"},"color":{"field":"s","type":"nominal","legend":null}}},
 {"data":{"values":[{}]},
  "layer":[
  {"mark":{"type":"text","text":"(f)","font":"Liberation Serif","align":"left","baseline":"alphabetic","fontSize":27,"color":"#111"},"encoding":{"x":{"datum":5.2},"y":{"datum":1.22}}},
  {"encoding":{"x":{"datum":4.02},"y":{"datum":3}},
   "layer":[
   {"mark":{"type":"text","text":"ET","angle":270,"align":"left","baseline":"alphabetic","fontSize":21,"dx":-75.2,"color":"#111"}},
   {"mark":{"type":"text","text":"(mm day","angle":270,"align":"left","baseline":"alphabetic","fontSize":21,"dx":-42.4,"color":"#111"}},
   {"mark":{"type":"text","text":"-1","angle":270,"align":"left","baseline":"alphabetic","fontSize":15,"dx":52,"dy":-9,"color":"#111"}},
   {"mark":{"type":"text","text":")","angle":270,"align":"left","baseline":"alphabetic","fontSize":21,"dx":67,"color":"#111"}}
   ]},
  {"encoding":{"x":{"datum":10},"y":{"datum":-0.17}},
   "layer":[
   {"mark":{"type":"text","text":"ET","align":"left","baseline":"alphabetic","fontSize":21,"dx":-85.5,"color":"#111"}},
   {"mark":{"type":"text","text":"ref","align":"left","baseline":"alphabetic","fontSize":15,"dx":-59.4,"dy":6,"color":"#111"}},
   {"mark":{"type":"text","text":"(mm day","align":"left","baseline":"alphabetic","fontSize":21,"dx":-32,"color":"#111"}},
   {"mark":{"type":"text","text":"-1","align":"left","baseline":"alphabetic","fontSize":15,"dx":63,"dy":-9,"color":"#111"}},
   {"mark":{"type":"text","text":")","align":"left","baseline":"alphabetic","fontSize":21,"dx":78,"color":"#111"}}
   ]},
  {"encoding":{"x":{"datum":15.37},"y":{"datum":3.02}},
   "layer":[
   {"mark":{"type":"text","text":"ET = 0.733ET","align":"left","baseline":"alphabetic","fontSize":14,"color":"#222"}},
   {"mark":{"type":"text","text":"ref","align":"left","baseline":"alphabetic","fontSize":10,"dx":95.5,"dy":3.5,"color":"#222"}}
   ]},
  {"encoding":{"x":{"datum":15.37},"y":{"datum":2.53}},
   "layer":[
   {"mark":{"type":"text","text":"standard deviation of the slope (","align":"left","baseline":"alphabetic","fontSize":14,"color":"#222"}},
   {"mark":{"type":"text","text":"σ","font":"Liberation Serif","fontStyle":"italic","align":"left","baseline":"alphabetic","fontSize":14,"dx":229,"color":"#222"}},
   {"mark":{"type":"text","text":"m","align":"left","baseline":"alphabetic","fontSize":10,"dx":236.5,"dy":3.5,"color":"#222"}},
   {"mark":{"type":"text","text":") = 0.0081","align":"left","baseline":"alphabetic","fontSize":14,"dx":246.2,"color":"#222"}}
   ]},
  {"encoding":{"x":{"datum":15.37},"y":{"datum":2.2}},
   "layer":[
   {"mark":{"type":"text","text":"r","align":"left","baseline":"alphabetic","fontSize":14,"color":"#222"}},
   {"mark":{"type":"text","text":"2","align":"left","baseline":"alphabetic","fontSize":10,"dx":5.8,"dy":-5.5,"color":"#222"}},
   {"mark":{"type":"text","text":"= 0.23, p < 0.01","align":"left","baseline":"alphabetic","fontSize":14,"dx":16.7,"color":"#222"}}
   ]},
  {"encoding":{"x":{"datum":15.37},"y":{"datum":1.86}},
   "layer":[
   {"mark":{"type":"text","text":"m","align":"left","baseline":"alphabetic","fontSize":14,"color":"#222"}},
   {"mark":{"type":"text","text":"wet","align":"left","baseline":"alphabetic","fontSize":10,"dx":13.6,"dy":3.5,"color":"#222"}},
   {"mark":{"type":"text","text":":0.33","align":"left","baseline":"alphabetic","fontSize":14,"dx":31.9,"color":"#222"}},
   {"mark":{"type":"text","text":"σ","font":"Liberation Serif","fontStyle":"italic","align":"left","baseline":"alphabetic","fontSize":14,"dx":76.7,"color":"#222"}},
   {"mark":{"type":"text","text":"m wet","align":"left","baseline":"alphabetic","fontSize":10,"dx":84.2,"dy":3.5,"color":"#222"}},
   {"mark":{"type":"text","text":"< 0.01","align":"left","baseline":"alphabetic","fontSize":14,"dx":115.4,"color":"#222"}}
   ]},
  {"encoding":{"x":{"datum":15.37},"y":{"datum":1.56}},
   "layer":[
   {"mark":{"type":"text","text":"m","align":"left","baseline":"alphabetic","fontSize":14,"color":"#222"}},
   {"mark":{"type":"text","text":"dry","align":"left","baseline":"alphabetic","fontSize":10,"dx":13.6,"dy":3.5,"color":"#222"}},
   {"mark":{"type":"text","text":":0.32","align":"left","baseline":"alphabetic","fontSize":14,"dx":30,"color":"#222"}},
   {"mark":{"type":"text","text":"σ","font":"Liberation Serif","fontStyle":"italic","align":"left","baseline":"alphabetic","fontSize":14,"dx":74.8,"color":"#222"}},
   {"mark":{"type":"text","text":"m dry","align":"left","baseline":"alphabetic","fontSize":10,"dx":82.3,"dy":3.5,"color":"#222"}},
   {"mark":{"type":"text","text":"< 0.01","align":"left","baseline":"alphabetic","fontSize":14,"dx":111.6,"color":"#222"}}
   ]}
  ]}
]
}
],
"spacing":81,
"bounds":"flush"
}
]
}
